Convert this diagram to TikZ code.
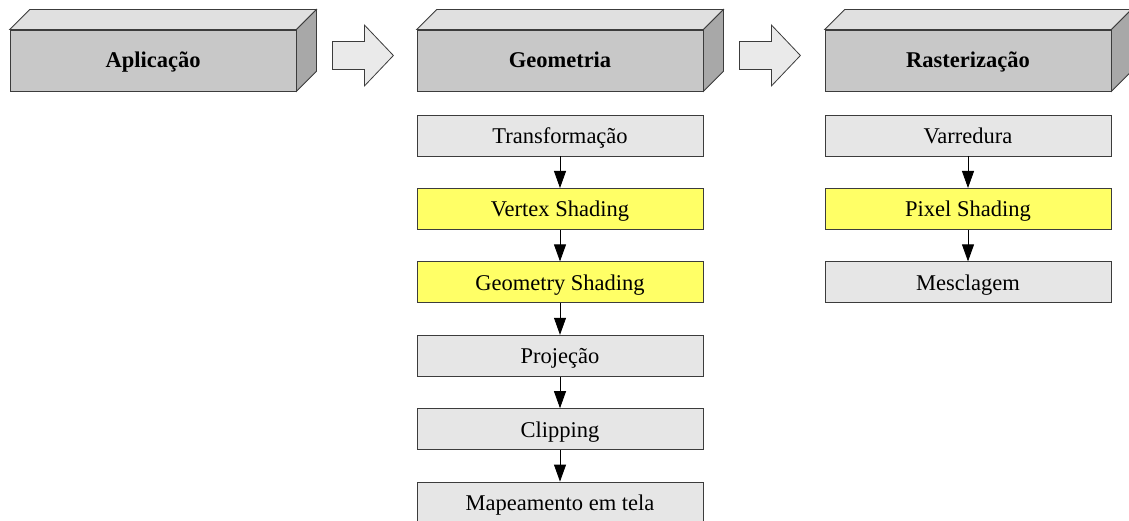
\documentclass[tikz,border=0pt]{standalone}
\usepackage{fontspec}
\setmainfont{Liberation Serif}
\usetikzlibrary{arrows.meta,calc}

\definecolor{stagefront}{RGB}{200,200,200}
\definecolor{stagetop}{RGB}{224,224,224}
\definecolor{stageside}{RGB}{168,168,168}
\definecolor{taskgray}{RGB}{230,230,230}
\definecolor{shaderyellow}{RGB}{255,255,102}
\definecolor{blockarrow}{RGB}{234,234,234}
\definecolor{edge}{RGB}{60,60,60}

\begin{document}
\begin{tikzpicture}[x=1pt,y=-1pt,
  stage/.style={draw=edge, fill=stagefront, minimum width=286pt, minimum height=61pt,
    inner sep=0pt, text height=17pt, text depth=2pt, line width=0.8pt,
    font=\fontsize{22.5}{26}\selectfont\bfseries},
  task/.style={draw=edge, fill=taskgray, minimum width=286pt, minimum height=41pt,
    inner sep=0pt, text height=18pt, text depth=2pt, line width=0.8pt,
    font=\fontsize{22.5}{26}\selectfont},
  shader/.style={task, fill=shaderyellow},
  flow/.style={-{Triangle[length=17pt,width=12pt]}, line width=0.8pt, black},
  face/.style={draw=edge, line width=0.8pt, line join=miter},
  bigarrow/.style={draw=edge, fill=blockarrow, line width=0.8pt},
]
\useasboundingbox (0,0) rectangle (1129,521);
\clip (0,0) rectangle (1129,521);

% pipeline stages drawn as boxes with a visible top and right face
\newcommand{\stagebox}[3]{%
  \node[stage] (#1) at (#2,60.5) {#3};
  \draw[face, fill=stagetop] (#1.north west) -- ++(20,-20) -- ($(#1.north east)+(20,-20)$) -- (#1.north east) -- cycle;
  \draw[face, fill=stageside] (#1.north east) -- ++(20,-20) -- ($(#1.south east)+(20,-20)$) -- (#1.south east) -- cycle;
}
\stagebox{app}{153}{Aplicação}
\stagebox{geo}{560}{Geometria}
\stagebox{ras}{968}{Rasterização}

% block arrows between the stages
\newcommand{\blockarrow}[1]{%
  \draw[bigarrow] ($(#1)+(0,-14.5)$) -- ++(32,0) -- ++(0,-16.5) -- ++(29,30.5)
    -- ++(-29,30.5) -- ++(0,-16.5) -- ++(-32,0) -- cycle;
}
\coordinate (a1) at ($(app.east)+(36,-4.5)$);
\coordinate (a2) at ($(geo.east)+(36,-4.5)$);
\blockarrow{a1}
\blockarrow{a2}

% geometry sub-steps
\node[task]   (g1) at (560,135.5) {Transformação};
\node[shader] (g2) at (560,208.9) {Vertex Shading};
\node[shader] (g3) at (560,282.3) {Geometry Shading};
\node[task]   (g4) at (560,355.7) {Projeção};
\node[task]   (g5) at (560,429.1) {Clipping};
\node[task]   (g6) at (560,502.5) {Mapeamento em tela};

% rasterization sub-steps
\node[task]   (r1) at (968,135.5) {Varredura};
\node[shader] (r2) at (968,208.9) {Pixel Shading};
\node[task]   (r3) at (968,282.3) {Mesclagem};

\foreach \a/\b in {g1/g2,g2/g3,g3/g4,g4/g5,g5/g6,r1/r2,r2/r3}
  \draw[flow] (\a.south) -- (\b.north);
\end{tikzpicture}
\end{document}
